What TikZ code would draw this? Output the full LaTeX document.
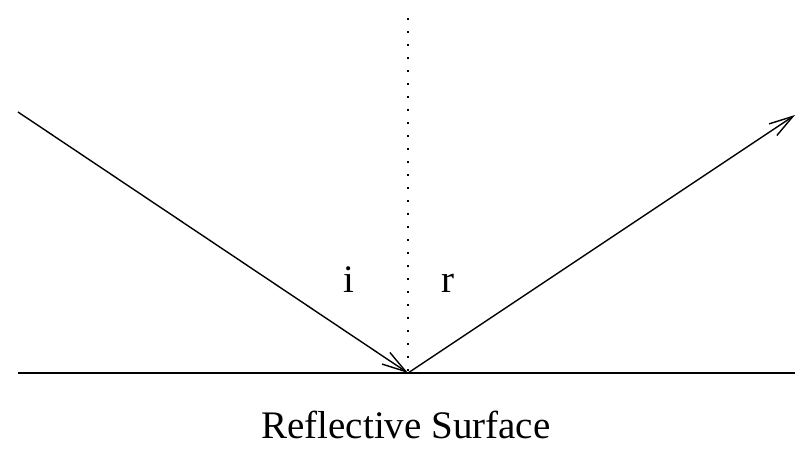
\documentclass[tikz,border=0pt]{standalone}
\usepackage{fontspec}
\setmainfont{Liberation Serif}
\usetikzlibrary{arrows.meta}
\begin{document}
\begin{tikzpicture}[x=1pt,y=-1pt,
  ray/.style={line width=1.4pt,-{Straight Barb[length=24pt,width=14pt,line width=1.4pt]}},
  lbl/.style={font=\fontsize{39}{40}\selectfont,anchor=base,inner sep=0pt}]
\useasboundingbox (0,0) rectangle (795,453);
\coordinate (sl) at (18,373);
\coordinate (sr) at (795,373);
\coordinate (p) at (408,373);
\coordinate (top) at (408,18);
\coordinate (src) at (18,112);
\coordinate (dst) at (795,115);
\draw[line width=1.4pt] (sl) -- (sr);
\draw[line width=1.4pt,dash pattern=on 1.8pt off 11.2pt] (top) -- (p);
\draw[ray] (src) -- (p);
\draw[ray] (p) -- (dst);
\node[lbl] (i) at (349,292) {i};
\node[lbl] (r) at (448,292) {r};
\node[lbl] (surf) at (406,438) {Reflective Surface};
\end{tikzpicture}
\end{document}
